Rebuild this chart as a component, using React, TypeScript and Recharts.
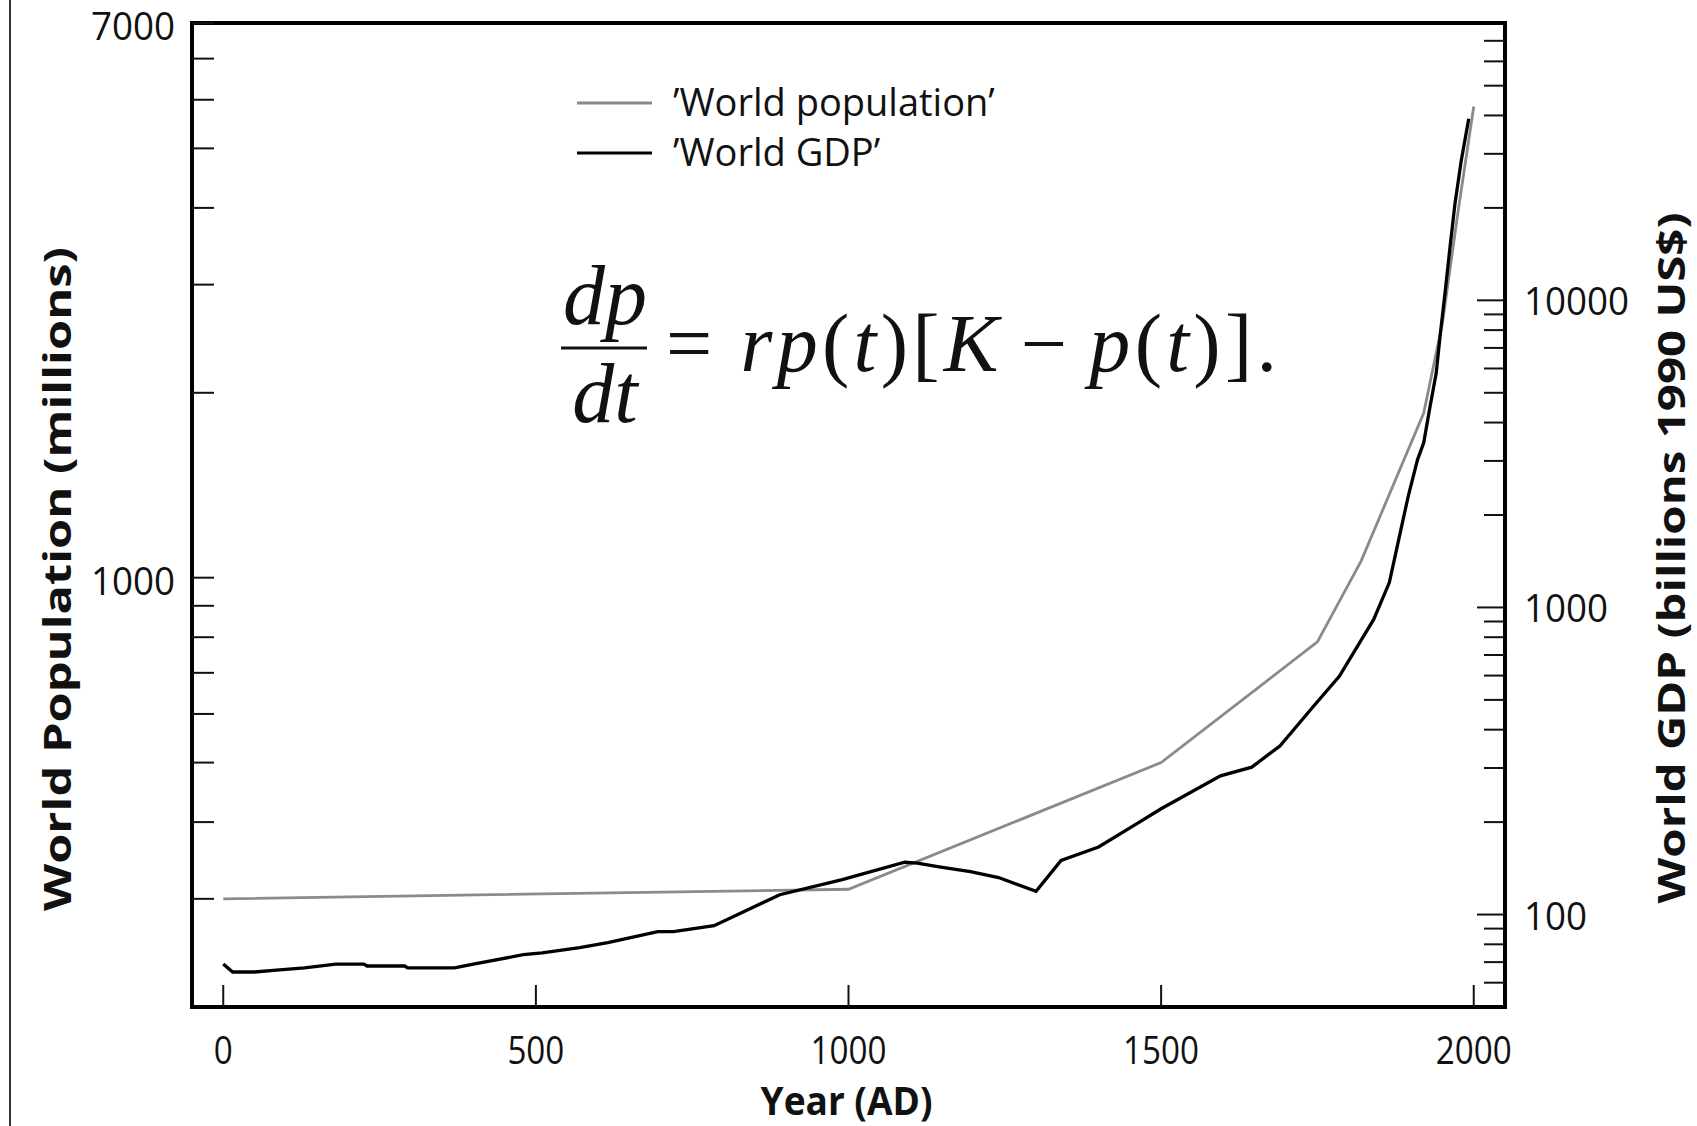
import { LineChart, Line, XAxis, YAxis, Legend, ReferenceLine } from "recharts";

// World population, millions (left axis)
const popYears = [0, 1000, 1500, 1750, 1820, 1920, 1950, 1975, 2000];
const popValues = [300, 311, 500, 786, 1065, 1854, 2600, 3950, 5850];

// World GDP, billions of 1990 US$ (right axis)
const gdpYears = [
  0, 15, 50, 90, 130, 180, 225, 230, 290, 295, 370, 400, 480, 510, 570, 615, 695, 720, 785, 890, 990,
  1090, 1110, 1145, 1195, 1240, 1300, 1340, 1400, 1460, 1500, 1595, 1645, 1690, 1740, 1785, 1840,
  1865, 1880, 1895, 1910, 1920, 1930, 1940, 1946, 1954, 1962, 1970, 1980, 1992,
];
const gdpValues = [
  69, 65, 65, 66, 67, 69, 69, 68, 68, 67, 67, 69, 74, 75, 78, 81, 88, 88, 92, 116, 130,
  148, 147, 143, 138, 132, 119, 150, 166, 197, 221, 283, 302, 354, 467, 597, 914,
  1205, 1662, 2291, 3024, 3436, 4497, 5796, 7586, 10540, 14860, 20650, 28500, 39000,
];

const seriesNames = ["’World population’", "’World GDP’"];

const yearTicks = [0, 500, 1000, 1500, 2000];
const popTicks = [300, 400, 500, 600, 700, 800, 900, 1000, 2000, 3000, 4000, 5000, 6000, 7000, 8000];
// the reference prints "7000" at the very top of the left axis
const popTickLabels: Record<number, string> = { 1000: "1000", 8000: "7000" };
const gdpTicks = [
  60, 70, 80, 90, 100, 200, 300, 400, 500, 600, 700, 800, 900, 1000, 2000, 3000, 4000, 5000, 6000,
  7000, 8000, 9000, 10000, 20000, 30000, 40000, 50000, 60000, 70000,
];
const gdpTickLabels: Record<number, string> = { 100: "100", 1000: "1000", 10000: "10000" };

const popData = popYears.map((year, i) => ({ year, pop: popValues[i] }));
const gdpData = gdpYears.map((year, i) => ({ year, gdp: gdpValues[i] }));

const FONT = "'Open Sans', 'DejaVu Sans', sans-serif";
const INK = "#111";

const LeftTick = ({ x, y, payload }: any) => {
  const label = popTickLabels[payload.value];
  return (
    <g>
      <line x1={x} y1={y} x2={x + 22} y2={y} stroke={INK} strokeWidth={2} />
      {label ? (
        <text
          x={x - 17}
          y={y + 17}
          textAnchor="end"
          fontSize={38}
          fontFamily={FONT}
          fill={INK}
          textLength={label.length * 21}
          lengthAdjust="spacingAndGlyphs"
        >
          {label}
        </text>
      ) : null}
    </g>
  );
};

const RightTick = ({ x, y, payload }: any) => {
  const label = gdpTickLabels[payload.value];
  return (
    <g>
      <line x1={x} y1={y} x2={x - (label ? 28 : 21)} y2={y} stroke={INK} strokeWidth={2} />
      {label ? (
        <text
          x={x + 19}
          y={y + 15}
          textAnchor="start"
          fontSize={38}
          fontFamily={FONT}
          fill={INK}
          textLength={label.length * 21}
          lengthAdjust="spacingAndGlyphs"
        >
          {label}
        </text>
      ) : null}
    </g>
  );
};

const BottomTick = ({ x, y, payload }: any) => {
  const label = String(payload.value);
  return (
    <g>
      <line x1={x} y1={y} x2={x} y2={y - 22} stroke={INK} strokeWidth={2} />
      <text
        x={x}
        y={y + 57}
        textAnchor="middle"
        fontSize={38}
        fontFamily={FONT}
        fill={INK}
        textLength={label.length * 19}
        lengthAdjust="spacingAndGlyphs"
      >
        {label}
      </text>
    </g>
  );
};

const LeftTitle = ({ viewBox }: any) => (
  <text
    transform={`translate(${viewBox.x + 56}, ${viewBox.y + viewBox.height / 2 + 64}) rotate(-90)`}
    textAnchor="middle"
    dominantBaseline="central"
    fontSize={38}
    fontWeight={700}
    fontFamily={FONT}
    fill={INK}
    textLength={664}
    lengthAdjust="spacingAndGlyphs"
  >
    World Population (millions)
  </text>
);

const RightTitle = ({ viewBox }: any) => (
  <text
    transform={`translate(${viewBox.x + 165}, ${viewBox.y + viewBox.height / 2 + 43}) rotate(-90)`}
    textAnchor="middle"
    dominantBaseline="central"
    fontSize={38}
    fontWeight={700}
    fontFamily={FONT}
    fill={INK}
    textLength={691}
    lengthAdjust="spacingAndGlyphs"
  >
    World GDP (billions 1990 US$)
  </text>
);

const BottomTitle = ({ viewBox }: any) => (
  <text
    x={viewBox.x + viewBox.width / 2 - 2}
    y={viewBox.y + 108}
    textAnchor="middle"
    fontSize={40}
    fontWeight={700}
    fontFamily={FONT}
    fill={INK}
    textLength={172}
    lengthAdjust="spacingAndGlyphs"
  >
    Year (AD)
  </text>
);

const LegendBox = (props: any) => {
  const items = [...(props.payload ?? [])].sort(
    (a: any, b: any) => seriesNames.indexOf(a.value) - seriesNames.indexOf(b.value)
  );
  return (
    <svg width={480} height={120} style={{ display: "block" }}>
      {items.map((item: any, i: number) => (
        <g key={i}>
          <line x1={17} x2={92} y1={43 + i * 50} y2={43 + i * 50} stroke={item.color} strokeWidth={3} />
          <text x={113} y={56 + i * 50} fontSize={38} fontFamily={FONT} fill={INK}>
            {item.value}
          </text>
        </g>
      ))}
    </svg>
  );
};

const serif = "'Liberation Serif', 'DejaVu Serif', serif";

const Equation = () => (
  <svg
    width={1697}
    height={1126}
    style={{ position: "absolute", left: 0, top: 0, pointerEvents: "none" }}
  >
    <text x={605} y={324} textAnchor="middle" fontSize={84} fontStyle="italic" fontFamily={serif} fill={INK}>
      dp
    </text>
    <line x1={561} x2={647} y1={348} y2={348} stroke={INK} strokeWidth={3} />
    <text x={605} y={422} textAnchor="middle" fontSize={84} fontStyle="italic" fontFamily={serif} fill={INK}>
      dt
    </text>
    <text
      x={666}
      y={371}
      fontSize={82}
      fontFamily={serif}
      fill={INK}
      textLength={611}
      lengthAdjust="spacing"
    >
      <tspan>=</tspan>
      <tspan dx={24} fontStyle="italic">rp</tspan>
      <tspan>(</tspan>
      <tspan fontStyle="italic">t</tspan>
      <tspan>)[</tspan>
      <tspan fontStyle="italic">K</tspan>
      <tspan dx={18}>−</tspan>
      <tspan dx={18} fontStyle="italic">p</tspan>
      <tspan>(</tspan>
      <tspan fontStyle="italic">t</tspan>
      <tspan>)].</tspan>
    </text>
  </svg>
);

const App = () => {
  return (
    <div style={{ position: "absolute", left: 0, top: 0, width: 1697, height: 1126, background: "#fff", fontFamily: FONT }}>
      <div style={{ position: "absolute", left: 9, top: 0, width: 2, height: 1126, background: "#333" }} />
      <LineChart width={1697} height={1126} margin={{ top: 23, right: 0, bottom: 0, left: 0 }}>
        <XAxis
          dataKey="year"
          type="number"
          domain={[-50, 2050]}
          ticks={yearTicks}
          interval={0}
          allowDataOverflow
          height={119}
          tickSize={0}
          tickMargin={0}
          tickLine={false}
          tick={BottomTick}
          axisLine={{ stroke: "#000", strokeWidth: 4, strokeLinecap: "square" }}
          label={{ value: "Year (AD)", content: BottomTitle }}
        />
        <YAxis
          yAxisId="pop"
          orientation="left"
          scale="log"
          domain={[200, 8000]}
          ticks={popTicks}
          interval={0}
          allowDataOverflow
          width={192}
          tickSize={0}
          tickMargin={0}
          tickLine={false}
          tick={LeftTick}
          axisLine={{ stroke: "#000", strokeWidth: 4, strokeLinecap: "square" }}
          label={{ value: "World Population (millions)", content: LeftTitle }}
        />
        <YAxis
          yAxisId="gdp"
          orientation="right"
          scale="log"
          domain={[50, 80000]}
          ticks={gdpTicks}
          interval={0}
          allowDataOverflow
          width={192}
          tickSize={0}
          tickMargin={0}
          tickLine={false}
          tick={RightTick}
          axisLine={{ stroke: "#000", strokeWidth: 4, strokeLinecap: "square" }}
          label={{ value: "World GDP (billions 1990 US$)", content: RightTitle }}
        />
        {/* top edge of the frame */}
        <ReferenceLine yAxisId="pop" y={8000} stroke="#000" strokeWidth={4} strokeLinecap="square" />
        <Legend
          content={LegendBox}
          layout="horizontal"
          align="center"
          verticalAlign="middle"
          wrapperStyle={{ left: 560, top: 60, width: 480, height: 120 }}
        />
        <Line
          yAxisId="pop"
          data={popData}
          dataKey="pop"
          name={seriesNames[0]}
          type="linear"
          stroke="#8a8a8a"
          strokeWidth={2.8}
          dot={false}
          activeDot={false}
          isAnimationActive={false}
        />
        <Line
          yAxisId="gdp"
          data={gdpData}
          dataKey="gdp"
          name={seriesNames[1]}
          type="linear"
          stroke="#000"
          strokeWidth={3.3}
          dot={false}
          activeDot={false}
          isAnimationActive={false}
        />
      </LineChart>
      <Equation />
    </div>
  );
};

export default App;
